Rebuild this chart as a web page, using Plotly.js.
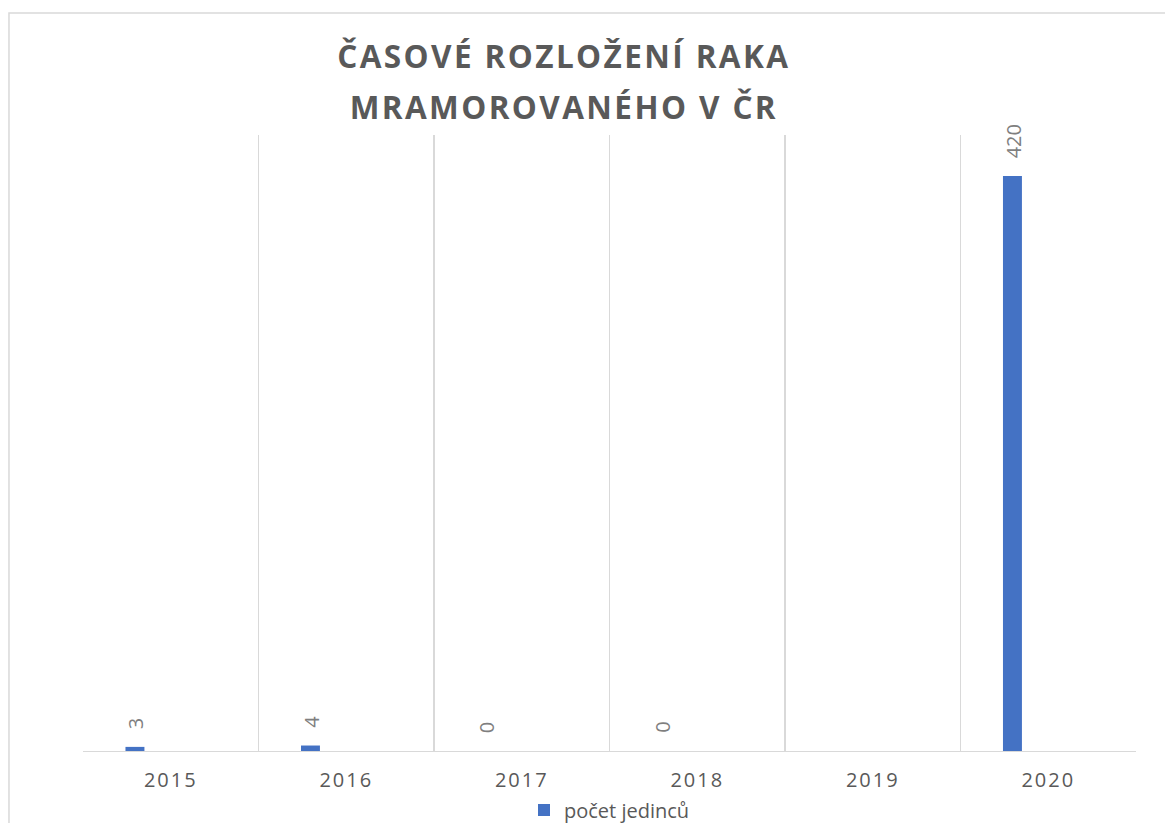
<!DOCTYPE html>
<html>
<head>
<meta charset="utf-8">
<script src="https://cdn.plot.ly/plotly-3.0.1.min.js"></script>
<style>
  html, body { margin: 0; padding: 0; background: #ffffff; overflow: hidden; }
  #frame { width: 1165px; height: 823px; overflow: hidden; position: relative; }
  #chart { width: 1165px; height: 850px; }
  .gtitle { letter-spacing: 2.4px; }
  .xtick text { letter-spacing: 2px; }
</style>
</head>
<body>
<div id="frame"><div id="chart"></div></div>
<script>
// ---- data ----
const years = ["2015", "2016", "2017", "2018", "2019", "2020"];
const pocetJedincu = [3, 4, 0, 0, null, 420];
const seriesName = "počet jedinců";
const titleLine1 = "ČASOVÉ ROZLOŽENÍ RAKA";
const titleLine2 = "MRAMOROVANÉHO V ČR";

// ---- style ----
const barColor = "#4472c4";
const gridColor = "#d9d9d9";
const textDark = "#595959";
const labelGray = "#7f7f7f";
const barWidth = 0.108;
const barOffset = -0.258;
const figH = 850;

const trace = {
  type: "bar",
  x: years,
  y: pocetJedincu,
  name: seriesName,
  marker: { color: barColor },
  width: barWidth,
  offset: barOffset,
  hoverinfo: "x+y+name",
  showlegend: true
};

const annotations = [];
years.forEach((yr, i) => {
  const v = pocetJedincu[i];
  if (v === null || v === undefined) return;
  annotations.push({
    x: i, y: v, xref: "x", yref: "y",
    text: String(v),
    showarrow: false,
    textangle: -90,
    xanchor: "center", yanchor: "bottom",
    xshift: -35, yshift: 16,
    font: { family: "Open Sans", size: 20, color: labelGray }
  });
});

const layout = {
  width: 1165,
  height: figH,
  paper_bgcolor: "#ffffff",
  plot_bgcolor: "#ffffff",
  margin: { l: 83, r: 29, t: 135, b: figH - 751 },
  title: {
    text: '<span style="font-size:31.5px">' + titleLine1 + '</span><br><span style="font-size:31.5px">' + titleLine2 + '</span>',
    font: { family: "Open Sans", size: 39, color: textDark, weight: 700 },
    xref: "container", x: 0.484, xanchor: "center",
    yref: "container", y: 1 - 68 / figH, yanchor: "top"
  },
  xaxis: {
    type: "category",
    range: [-0.5, 5.5],
    tickson: "boundaries",
    showgrid: true,
    gridcolor: gridColor,
    gridwidth: 1.4,
    showline: true,
    linecolor: gridColor,
    linewidth: 1.4,
    ticks: "",
    ticklabelstandoff: 11,
    tickfont: { family: "Open Sans", size: 20, color: textDark },
    fixedrange: true
  },
  yaxis: {
    range: [0, 450],
    visible: false,
    showgrid: false,
    zeroline: false,
    fixedrange: true
  },
  showlegend: true,
  legend: {
    orientation: "h",
    x: 0.5, xanchor: "center",
    y: (751 - 810) / 616, yanchor: "middle",
    font: { family: "Open Sans", size: 20, color: textDark },
    itemwidth: 30,
    bgcolor: "rgba(0,0,0,0)"
  },
  annotations: annotations,
  shapes: [{
    type: "rect", xref: "paper", yref: "paper",
    x0: -0.0703, x1: 1.2, y0: -0.3, y1: 1.198,
    line: { color: gridColor, width: 1.5 },
    fillcolor: "rgba(0,0,0,0)",
    layer: "below"
  }]
};

Plotly.newPlot("chart", [trace], layout, { displayModeBar: false, staticPlot: true });
</script>
</body>
</html>
